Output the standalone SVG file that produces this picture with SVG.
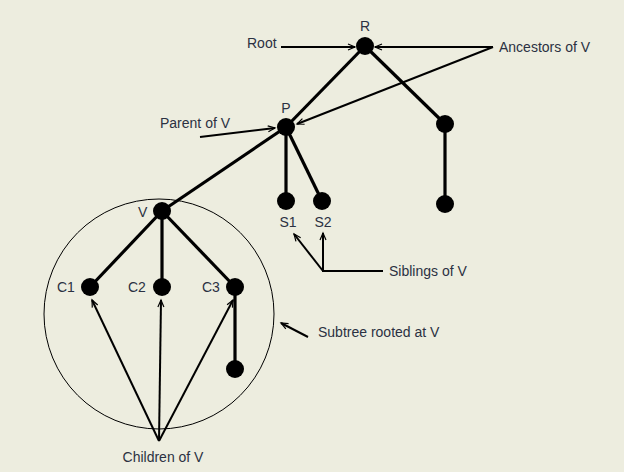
<svg xmlns="http://www.w3.org/2000/svg" width="624" height="472" viewBox="0 0 624 472">
<style>
.t{font-family:"Liberation Sans",Arial,sans-serif;font-size:14px;fill:#2b3142}
.c{text-anchor:middle}
.e{stroke:#000;stroke-width:3.2;fill:none}
.a{stroke:#000;stroke-width:2;fill:none;marker-end:url(#ah)}
.n{fill:#000}
</style>
<defs>
<marker id="ah" markerWidth="10" markerHeight="8" refX="8" refY="4" orient="auto" markerUnits="userSpaceOnUse">
<path d="M1,1 L8,4 L1,7" fill="none" stroke="#000" stroke-width="1.2"/>
</marker>
</defs>
<rect width="624" height="472" fill="#ededdf"/>
<g id="connectors">
<circle cx="159" cy="314" r="115" fill="none" stroke="#000" stroke-width="1"/>
<line class="e" x1="365" y1="46" x2="286" y2="127"/>
<line class="e" x1="365" y1="46" x2="445" y2="124"/>
<line class="e" x1="445" y1="124" x2="445" y2="204"/>
<line class="e" x1="286" y1="127" x2="162" y2="211"/>
<line class="e" x1="286" y1="127" x2="286" y2="201"/>
<line class="e" x1="286" y1="127" x2="322" y2="201"/>
<line class="e" x1="162" y1="211" x2="90" y2="287"/>
<line class="e" x1="162" y1="211" x2="162" y2="287"/>
<line class="e" x1="162" y1="211" x2="235" y2="287"/>
<line class="e" x1="235" y1="287" x2="235" y2="369"/>
<line class="a" x1="281" y1="47" x2="355" y2="47"/>
<line class="a" x1="493" y1="47" x2="375" y2="47"/>
<line class="a" x1="493" y1="47" x2="297" y2="124"/>
<line class="a" x1="200" y1="137" x2="275" y2="128"/>
<polyline points="383,271 323,271 323,233" class="a"/>
<line class="a" x1="323" y1="271" x2="294" y2="234"/>
<line class="a" x1="308" y1="337" x2="281" y2="323"/>
<line class="a" x1="159" y1="441" x2="92" y2="300"/>
<line class="a" x1="159" y1="441" x2="161" y2="300"/>
<line class="a" x1="159" y1="441" x2="233" y2="300"/>
</g>
<g id="R"><circle class="n" cx="365" cy="46" r="9"/><text class="t c" x="365" y="31">R</text></g>
<g id="P"><circle class="n" cx="286" cy="127" r="9"/><text class="t c" x="286" y="113">P</text></g>
<g id="A"><circle class="n" cx="445" cy="124" r="9"/></g>
<g id="B"><circle class="n" cx="445" cy="204" r="9"/></g>
<g id="S1"><circle class="n" cx="286" cy="201" r="9"/><text class="t c" x="288" y="227">S1</text></g>
<g id="S2"><circle class="n" cx="322" cy="201" r="9"/><text class="t c" x="323" y="227">S2</text></g>
<g id="V"><circle class="n" cx="162" cy="211" r="9"/><text class="t" x="138" y="217">V</text></g>
<g id="C1"><circle class="n" cx="90" cy="287" r="9"/><text class="t" x="57" y="292">C1</text></g>
<g id="C2"><circle class="n" cx="162" cy="287" r="9"/><text class="t" x="128" y="292">C2</text></g>
<g id="C3"><circle class="n" cx="235" cy="287" r="9"/><text class="t" x="202" y="292">C3</text></g>
<g id="D"><circle class="n" cx="235" cy="369" r="9"/></g>
<g id="labels">
<text class="t" x="247" y="48">Root</text>
<text class="t" x="499" y="52">Ancestors of V</text>
<text class="t" x="160" y="128">Parent of V</text>
<text class="t" x="389" y="276">Siblings of V</text>
<text class="t" x="318" y="337">Subtree rooted at V</text>
<text class="t c" x="163" y="462">Children of V</text>
</g>
</svg>
